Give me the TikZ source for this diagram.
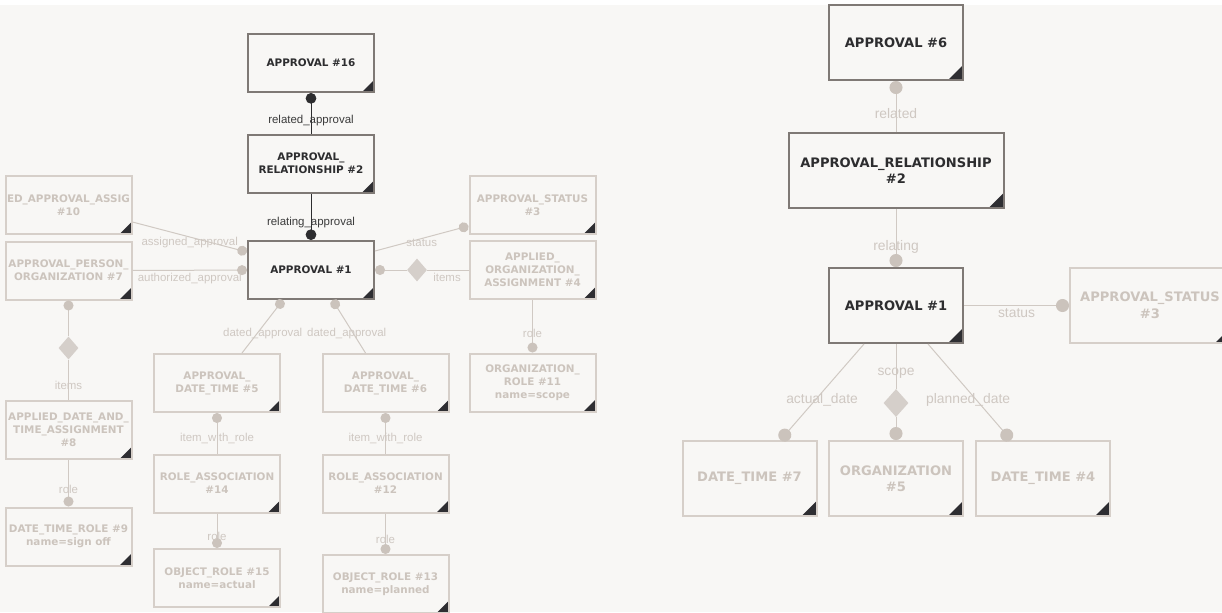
\documentclass[tikz,border=0pt]{standalone}
\usepackage{fontspec}
\setmainfont{DejaVu Sans}
\newfontfamily\lblfont{Liberation Sans}
\usetikzlibrary{arrows.meta, positioning, calc, shapes.geometric}
\definecolor{canvas}{HTML}{F8F7F5}
\definecolor{actborder}{HTML}{7F7975}
\definecolor{acttext}{HTML}{2D2D2F}
\definecolor{fadeborder}{HTML}{D6CFC9}
\definecolor{fadetext}{HTML}{CCC4BD}
\definecolor{fadeline}{HTML}{D0C9C3}
\definecolor{dotgray}{HTML}{CBC3BC}
\definecolor{diagray}{HTML}{D5CFCA}
\definecolor{lblfade}{HTML}{CFC8C2}
\definecolor{lblact}{HTML}{3C3C3C}
\definecolor{cornerc}{HTML}{2E2E32}

\tikzset{
  corner/.style={path picture={\fill[cornerc] (path picture bounding box.south east)
      -- ++(-#1,0) -- ++(#1,#1) -- cycle;}},
  ent/.style={draw=fadeborder, line width=1.5pt, fill=canvas, text=fadetext,
    font={\bfseries\fontsize{7.8}{9.75}\selectfont}, align=center,
    minimum width=94.5pt, minimum height=43.5pt, inner sep=0pt, corner=9pt},
  bigent/.style={ent, font={\bfseries\fontsize{9.8}{12.4}\selectfont},
    minimum width=100.5pt, minimum height=56.25pt, corner=11.25pt},
  act/.style={draw=actborder, text=acttext},
  dia/.style={diamond, fill=diagray, draw=none, inner sep=0pt,
    minimum width=15pt, minimum height=17.25pt},
  bigdia/.style={dia, minimum width=18.75pt, minimum height=21pt},
  rel/.style={draw=fadeline, line width=0.75pt},
  reldot/.style={rel, -{Circle[length=7.5pt, width=7.5pt, color=dotgray]}},
  actdot/.style={draw=acttext, line width=0.6pt,
    -{Circle[length=8pt, width=8pt, color=acttext]}},
  rreldot/.style={rel, -{Circle[length=9.75pt, width=9.75pt, color=dotgray]}},
  lbl/.style={font={\lblfont\fontsize{8.6}{10}\selectfont}, text=lblfade, inner sep=1pt},
  lblact/.style={lbl, text=lblact},
  rlbl/.style={lbl, font={\lblfont\fontsize{10.4}{12}\selectfont}}
}

\begin{document}
\begin{tikzpicture}[x=0.75pt, y=-0.75pt]

% Canvas
\useasboundingbox (0,0) rectangle (1222,612);
\clip (0,0) rectangle (1222,612);
\fill[white] (0,0) rectangle (1222,5);
\fill[canvas] (0,5) rectangle (1222,612);

% --- Left diagram: entities ---
\node[ent, act] (a16) at (311,63) {APPROVAL \#16};
\node[ent, act] (lar2) at (311,163.5) {APPROVAL\_\\RELATIONSHIP \#2};
\node[ent, act] (la1) at (311,270) {APPROVAL \#1};

\node[ent] (aaa10) at (68.5,205) {ED\_APPROVAL\_ASSIG\\\#10};
\node[ent] (apo7) at (68.5,270.5) {APPROVAL\_PERSON\_\\ORGANIZATION \#7};
\node[ent] (adta8) at (68.5,430) {APPLIED\_DATE\_AND\_\\TIME\_ASSIGNMENT\\\#8};
\node[ent] (dtr9) at (68.5,536.5) {DATE\_TIME\_ROLE \#9\\name=sign off};

\node[ent] (las3) at (532.5,205) {APPROVAL\_STATUS\\\#3};
\node[ent] (aoa4) at (532.5,270) {APPLIED\_\\ORGANIZATION\_\\ASSIGNMENT \#4};
\node[ent] (or11) at (532.5,382.5) {ORGANIZATION\_\\ROLE \#11\\name=scope};

\node[ent] (adt5) at (217,383) {APPROVAL\_\\DATE\_TIME \#5};
\node[ent] (adt6) at (385.5,383) {APPROVAL\_\\DATE\_TIME \#6};
\node[ent] (ra14) at (217,483.5) {ROLE\_ASSOCIATION\\\#14};
\node[ent] (ra12) at (385.5,483.5) {ROLE\_ASSOCIATION\\\#12};
\node[ent] (or15) at (217,578) {OBJECT\_ROLE \#15\\name=actual};
\node[ent] (or13) at (385.5,584) {OBJECT\_ROLE \#13\\name=planned};

\node[dia] (ldi1) at (417,270) {};
\node[dia] (ldi2) at (68.5,348) {};

% --- Left diagram: relations ---
\draw[actdot] (lar2) -- (a16) node[lblact, pos=0.33] (lrelated) {related\_approval};
\draw[actdot] (lar2) -- (la1) node[lblact, pos=0.63] (lrelating) {relating\_approval};

\draw[reldot] ($(aaa10.east)+(0,17)$) -- ($(la1.west)+(0,-18)$)
  node[lbl, pos=0.5, yshift=-4pt] (lassigned) {assigned\_approval};
\draw[reldot] (apo7) -- (la1)
  node[lbl, pos=0.5, yshift=-6pt] (lauthorized) {authorized\_approval};
\draw[reldot] ($(la1.east)+(0,-19)$) -- ($(las3.west)+(0,21)$)
  node[lbl, pos=0.5, yshift=-3.5pt] (lstatus) {status};

\draw[rel] (aoa4) -- (ldi1) node[lbl, pos=0.52, yshift=-5.5pt] (litems) {items};
\draw[reldot] (ldi1) -- (la1);
\draw[reldot] (aoa4) -- (or11) node[lbl, pos=0.63] (lrole11) {role};

\draw[reldot] ($(adt5.north)+(25,0)$) -- ($(la1.south)+(-28,0)$)
  node[lbl, pos=0.37, xshift=4.2pt] (ldated5) {dated\_approval};
\draw[reldot] ($(adt6.north)+(-20,0)$) -- ($(la1.south)+(21.5,0)$)
  node[lbl, pos=0.37, xshift=-4.9pt] (ldated6) {dated\_approval};

\draw[reldot] (ra14) -- (adt5) node[lbl, pos=0.36] (litem14) {item\_with\_role};
\draw[reldot] (ra12) -- (adt6) node[lbl, pos=0.36] (litem12) {item\_with\_role};
\draw[reldot] (ra14) -- (or15) node[lbl, pos=0.67] (lrole15) {role};
\draw[reldot] (ra12) -- (or13) node[lbl, pos=0.65] (lrole13) {role};

\draw[rel] (adta8) -- (ldi2) node[lbl, pos=0.36] (litems8) {items};
\draw[reldot] (ldi2) -- (apo7);
\draw[reldot] (adta8) -- (dtr9) node[lbl, pos=0.64] (lrole9) {role};

% --- Right diagram: entities ---
\node[bigent, act] (r6) at (896,42.5) {APPROVAL \#6};
\node[bigent, act, minimum width=161.25pt] (rr2) at (896,170.5) {APPROVAL\_RELATIONSHIP\\\#2};
\node[bigent, act] (r1) at (896,305.5) {APPROVAL \#1};
\node[bigent, minimum width=120pt] (rs3) at (1150,305.5) {APPROVAL\_STATUS\\\#3};
\node[bigent] (dt7) at (749.5,478.5) {DATE\_TIME \#7};
\node[bigent] (org5) at (896,478.5) {ORGANIZATION\\\#5};
\node[bigent] (dt4) at (1043,478.5) {DATE\_TIME \#4};

\node[bigdia] (rdi) at (896,403) {};

% --- Right diagram: relations ---
\draw[rreldot] (rr2) -- (r6) node[rlbl, pos=0.36] (rrelated) {related};
\draw[rreldot] (rr2) -- (r1) node[rlbl, pos=0.65] (rrelating) {relating};
\draw[rreldot] (r1) -- (rs3) node[rlbl, pos=0.5, yshift=-6pt] (rstatus) {status};

\draw[rreldot] ($(r1.south)+(-32,0)$) -- ($(dt7.north)+(31,0)$)
  node[rlbl, pos=0.58, xshift=4.9pt] (ractual) {actual\_date};
\draw[rel] (r1) -- (rdi) node[rlbl, pos=0.65] (rscope) {scope};
\draw[rreldot] (rdi) -- (org5);
\draw[rreldot] ($(r1.south)+(32,0)$) -- ($(dt4.north)+(-32,0)$)
  node[rlbl, pos=0.58, xshift=-6pt] (rplanned) {planned\_date};

\end{tikzpicture}
\end{document}
